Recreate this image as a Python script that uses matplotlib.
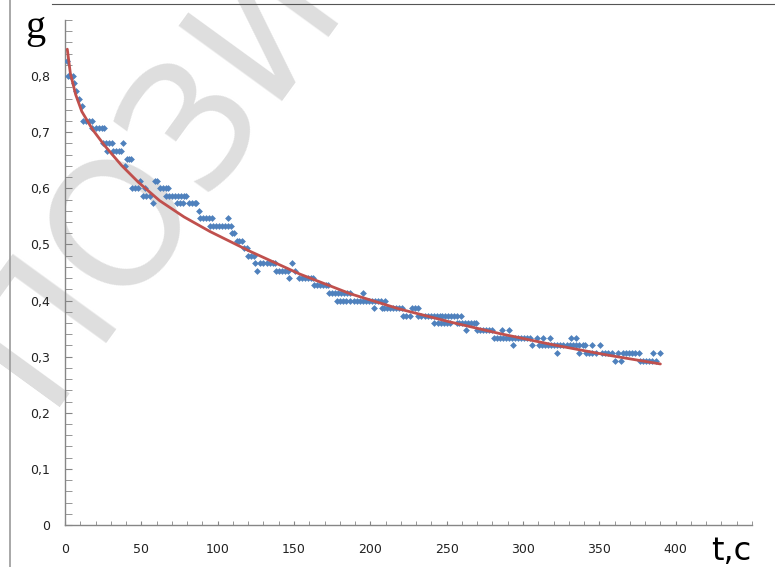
import matplotlib
matplotlib.use("Agg")
import matplotlib.pyplot as plt
from matplotlib.ticker import MultipleLocator, FuncFormatter
from matplotlib.lines import Line2D

# ---- measured points (t, s ; g) ----
t_points = [
    1, 2, 3.5, 5, 6, 7.5, 9, 11,
    12, 14, 16, 17.5,
    18, 20, 22, 24, 25.5,
    25, 27, 29, 30.5, 38,
    27.5, 31.5, 33.5, 35.5, 37,
    40.5, 42, 43, 39.5,
    49, 59, 60.5,
    44, 46, 48, 52.5, 62, 64, 66, 67.5,
    51, 53, 55.5, 66, 68, 70, 72, 74, 76, 78, 79.5,
    57.5, 73.5, 75, 77, 81.5, 83, 85, 86,
    87.5,
    88.5, 90.5, 92.5, 94.5, 96, 107,
    95, 97, 99, 101, 103, 105, 107, 109,
    109.5, 111,
    112.5, 114, 116,
    117, 119,
    120, 122, 124,
    124.5, 128, 130, 132, 134, 136, 137.5, 148.5,
    126, 138, 140, 142, 144, 146, 150.5,
    147, 153, 155, 157, 159, 161, 162.5,
    163, 165, 167, 169, 171, 172.5,
    173, 175, 177, 179, 181, 183, 185, 186.5, 195.5,
    178, 180, 182, 184, 187, 189, 191, 193, 195, 197, 199, 201, 203, 205, 207, 209.5,
    202.5, 207.5, 209, 211, 213, 215, 217, 219, 220.5, 227, 229, 231,
    221.5, 223.5, 226, 231.5, 233.5, 235.5, 237.5, 239.5, 241.5, 243.5, 245.5,
    247, 249, 251, 253, 255, 256.5, 259.5,
    242, 244, 246, 248, 250, 252, 256.5, 258, 260, 262, 264, 266, 268, 269.5,
    262.5, 270, 272, 274, 276, 278, 280, 286.5, 291,
    281, 283, 285, 287, 289, 291, 293, 294.5, 296.5, 298.5, 300.5, 302.5, 304.5,
    309, 313, 318, 331.5, 334.5,
    293.5, 306, 310.5, 312.5, 314.5, 316.5, 318.5, 320.5, 322.5, 324.5, 326.5,
    328.5, 330.5, 333, 335, 337, 339, 340.5, 345, 350.5,
    322, 337, 341.5, 343.5, 345.5, 348, 351.5, 353.5, 355.5, 358, 362,
    365.5, 367.5, 369.5, 371.5, 373.5, 376, 385, 389.5,
    360, 364.5, 376.5, 378.5, 380.5, 382.5, 384.5, 387,
]
g_points = [
    0.827, 0.800, 0.800, 0.800, 0.787, 0.773, 0.760, 0.747,
    0.720, 0.720, 0.720, 0.720,
    0.707, 0.707, 0.707, 0.707, 0.707,
    0.680, 0.680, 0.680, 0.680, 0.680,
    0.667, 0.667, 0.667, 0.667, 0.667,
    0.653, 0.653, 0.653, 0.640,
    0.613, 0.613, 0.613,
    0.600, 0.600, 0.600, 0.600, 0.600, 0.600, 0.600, 0.600,
    0.587, 0.587, 0.587, 0.587, 0.587, 0.587, 0.587, 0.587, 0.587, 0.587, 0.587,
    0.573, 0.573, 0.573, 0.573, 0.573, 0.573, 0.573, 0.573,
    0.560,
    0.547, 0.547, 0.547, 0.547, 0.547, 0.547,
    0.533, 0.533, 0.533, 0.533, 0.533, 0.533, 0.533, 0.533,
    0.520, 0.520,
    0.507, 0.507, 0.507,
    0.493, 0.493,
    0.480, 0.480, 0.480,
    0.467, 0.467, 0.467, 0.467, 0.467, 0.467, 0.467, 0.467,
    0.453, 0.453, 0.453, 0.453, 0.453, 0.453, 0.453,
    0.440, 0.440, 0.440, 0.440, 0.440, 0.440, 0.440,
    0.427, 0.427, 0.427, 0.427, 0.427, 0.427,
    0.413, 0.413, 0.413, 0.413, 0.413, 0.413, 0.413, 0.413, 0.413,
    0.400, 0.400, 0.400, 0.400, 0.400, 0.400, 0.400, 0.400, 0.400, 0.400, 0.400,
    0.400, 0.400, 0.400, 0.400, 0.400,
    0.387, 0.387, 0.387, 0.387, 0.387, 0.387, 0.387, 0.387, 0.387, 0.387, 0.387, 0.387,
    0.373, 0.373, 0.373, 0.373, 0.373, 0.373, 0.373, 0.373, 0.373, 0.373, 0.373,
    0.373, 0.373, 0.373, 0.373, 0.373, 0.373, 0.373,
    0.360, 0.360, 0.360, 0.360, 0.360, 0.360, 0.360, 0.360, 0.360, 0.360, 0.360,
    0.360, 0.360, 0.360,
    0.347, 0.347, 0.347, 0.347, 0.347, 0.347, 0.347, 0.347, 0.347,
    0.333, 0.333, 0.333, 0.333, 0.333, 0.333, 0.333, 0.333, 0.333, 0.333, 0.333,
    0.333, 0.333,
    0.333, 0.333, 0.333, 0.333, 0.333,
    0.320, 0.320, 0.320, 0.320, 0.320, 0.320, 0.320, 0.320, 0.320, 0.320, 0.320,
    0.320, 0.320, 0.320, 0.320, 0.320, 0.320, 0.320, 0.320, 0.320,
    0.307, 0.307, 0.307, 0.307, 0.307, 0.307, 0.307, 0.307, 0.307, 0.307, 0.307,
    0.307, 0.307, 0.307, 0.307, 0.307, 0.307, 0.307, 0.307,
    0.293, 0.293, 0.293, 0.293, 0.293, 0.293, 0.293, 0.293,
]

# ---- trend curve ----
t_curve = [1.5, 3.5, 7, 11, 18, 26, 37, 48, 62, 78, 95, 121, 154, 187,
           219, 252, 285, 320, 355, 390]
g_curve = [0.848, 0.805, 0.767, 0.737, 0.705, 0.676, 0.641, 0.611, 0.578,
           0.549, 0.523, 0.488, 0.447, 0.412, 0.385, 0.362, 0.341, 0.321,
           0.303, 0.287]

x_ticks = [0, 50, 100, 150, 200, 250, 300, 350, 400]
y_ticks = [0, 0.1, 0.2, 0.3, 0.4, 0.5, 0.6, 0.7, 0.8]

fig = plt.figure(figsize=(7.75, 5.67), dpi=100)
fig.patch.set_facecolor("white")

# faint watermark behind the plot
fig.text(185 / 775, 1 - 130 / 567, "ПОЗИТ", rotation=54, rotation_mode="anchor",
         ha="center", va="center", fontsize=125, color="#dedede",
         family="DejaVu Sans", zorder=-1)

# page artifacts
fig.add_artist(Line2D([52 / 775, 1], [1 - 4 / 567, 1 - 4 / 567],
                      color="#555555", lw=0.8))
fig.add_artist(Line2D([10 / 775, 10 / 775], [0, 1], color="#9a9a9a", lw=1.2))

ax = fig.add_axes([65 / 775, 1 - 525 / 567, (752 - 65) / 775, (525 - 20) / 567])
ax.patch.set_alpha(0)
ax.set_xlim(0, 450)
ax.set_ylim(0, 0.9)

ax.scatter(t_points, g_points, marker="D", s=12, color="#4F81BD",
           linewidths=0, zorder=3)
ax.plot(t_curve, g_curve, color="#C0504D", lw=2, zorder=4,
        solid_capstyle="round")

for s in ["top", "right"]:
    ax.spines[s].set_visible(False)
for s in ["left", "bottom"]:
    ax.spines[s].set_color("#868686")
    ax.spines[s].set_linewidth(1)

ax.set_xticks(x_ticks)
ax.set_yticks(y_ticks)
ax.xaxis.set_minor_locator(MultipleLocator(10))
ax.yaxis.set_minor_locator(MultipleLocator(0.02))
fmt = FuncFormatter(lambda v, p: ("%g" % round(v, 2)).replace(".", ","))
ax.yaxis.set_major_formatter(fmt)
ax.tick_params(axis="x", which="both", direction="in", length=3,
               color="#868686", labelsize=9, pad=13, labelcolor="#222222")
ax.tick_params(axis="y", which="both", direction="in", length=5,
               color="#868686", labelsize=9, pad=10.5, labelcolor="#222222")

fig.text(25 / 775, 1 - 38 / 567, "g", fontsize=29, family="Liberation Serif",
         ha="left", va="baseline", color="black")
fig.text(711 / 775, 1 - 560 / 567, "t,c", fontsize=23, family="DejaVu Sans",
         ha="left", va="baseline", color="black")

fig.savefig("out.png", dpi=100)
